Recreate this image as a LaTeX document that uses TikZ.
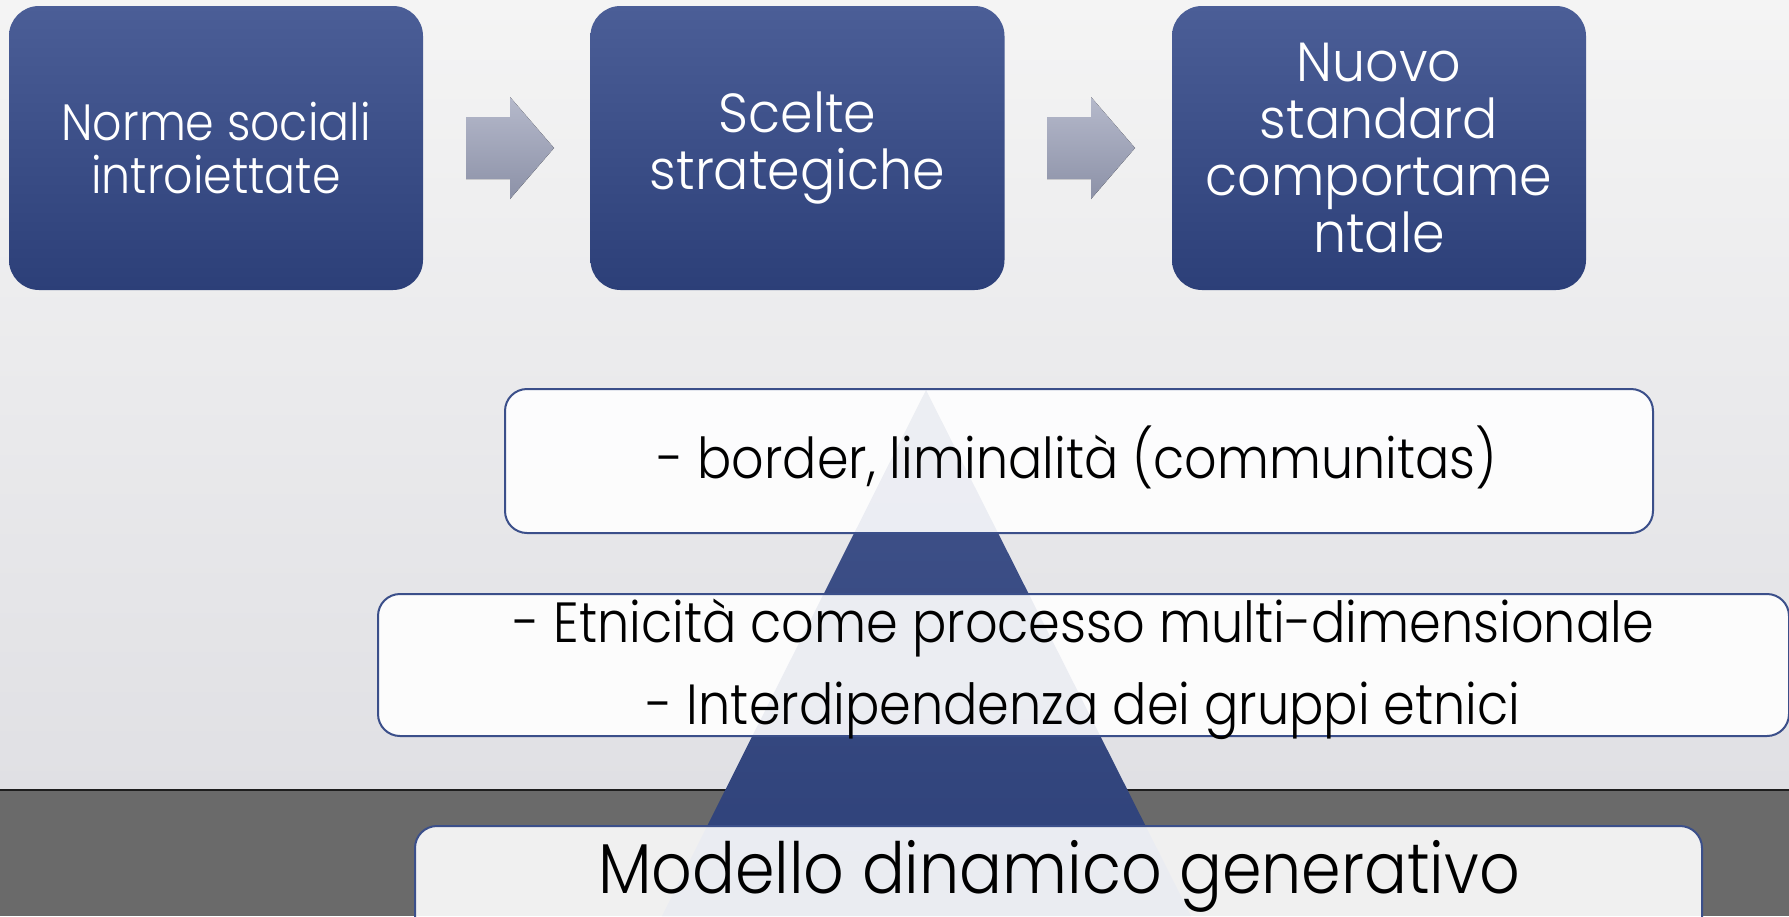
\documentclass[tikz,border=0pt]{standalone}
\usepackage{fontspec}
\setmainfont{Poppins}[UprightFont=* Light, FakeStretch=0.9]
\newfontfamily\widefont{Poppins}[UprightFont=* Light, FakeStretch=0.95]
\definecolor{bgtop}{HTML}{F4F4F4}
\definecolor{bgbot}{HTML}{E0E0E4}
\definecolor{band}{HTML}{6A6A6A}
\definecolor{bandline}{HTML}{1E1E1E}
\definecolor{boxtop}{HTML}{4B5E97}
\definecolor{boxbot}{HTML}{2C3F78}
\definecolor{arrtop}{HTML}{B5B9CB}
\definecolor{arrbot}{HTML}{8C91A7}
\definecolor{tritop}{HTML}{42548C}
\definecolor{tribot}{HTML}{2D4078}
\definecolor{lineblue}{HTML}{3B4F8A}
\begin{document}
\begin{tikzpicture}[x=0.5pt,y=-0.5pt,
  topbox/.style={rounded corners=15pt, top color=boxtop, bottom color=boxbot, draw=none,
    minimum width=207pt, minimum height=142pt, text=white, align=center,
    font=\widefont\fontsize{27.5}{28.4}\selectfont, inner sep=0pt},
  blockarrow/.style={top color=arrtop, bottom color=arrbot, draw=none},
  wbox/.style={rounded corners=11pt, fill=white, fill opacity=0.9,
    draw=lineblue, line width=1pt, inner sep=0pt},
  lbl/.style={text=black, align=center, inner sep=0pt}
]
\useasboundingbox (0,0) rectangle (1789,916);
\clip (0,0) rectangle (1789,916);
% background
\shade[top color=bgtop, bottom color=bgbot] (0,0) rectangle (1789,790);
\fill[band] (0,790) rectangle (1789,916);
\draw[line width=1.2pt, bandline] (0,790) -- (1789,790);

% top process boxes
\node[topbox, font=\fontsize{25.5}{26.2}\selectfont] (n1) at (216,148) {Norme sociali\\introiettate};
\node[topbox] (n2) at (797.5,148) {Scelte\\strategiche};
\node[topbox] (n3) at (1379,148) {Nuovo\\standard\\comportame\\ntale};

% block arrows between the boxes
\fill[blockarrow] (466,117) -- (510,117) -- (510,97) -- (554,148) -- (510,199) -- (510,179) -- (466,179) -- cycle;
\fill[blockarrow] (1047,117) -- (1091,117) -- (1091,97) -- (1135,148) -- (1091,199) -- (1091,179) -- (1047,179) -- cycle;

% pyramid
\shade[top color=tritop, bottom color=tribot] (926,390) -- (662,916) -- (1191,916) -- cycle;

% translucent boxes
\node[wbox, minimum width=574pt, minimum height=72pt] (a) at (1079,461) {};
\node[wbox, minimum width=705.5pt, minimum height=71pt] (b) at (1083.5,665) {};
\node[wbox, minimum width=643.5pt, minimum height=90pt, anchor=north] (c) at (1058.5,825) {};

% texts
\node[lbl, font=\fontsize{28.2}{34}\selectfont] (at) at (1077,457) {- border, liminalità (communitas)};
\node[lbl, font=\fontsize{28.3}{41.2}\selectfont] (bt) at (1083.5,669) {- Etnicità come processo multi-dimensionale\\- Interdipendenza dei gruppi etnici};
\node[lbl, font=\fontsize{35.3}{40}\selectfont] (ct) at (1059,876.5) {Modello dinamico generativo};
\end{tikzpicture}
\end{document}
